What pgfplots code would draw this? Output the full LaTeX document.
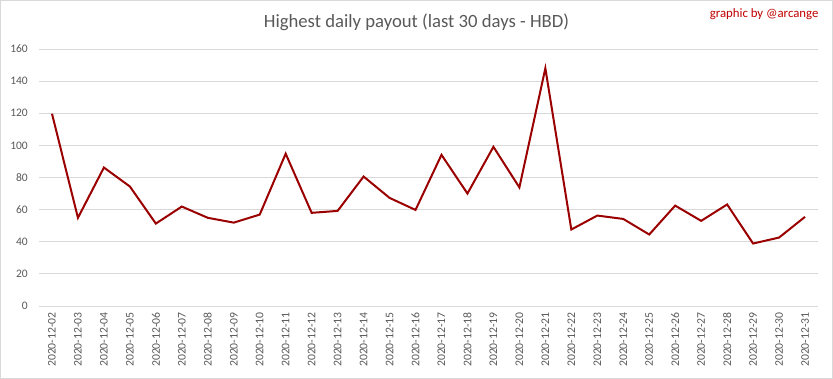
\documentclass[border=0pt]{standalone}
\usepackage{fontspec}
\setmainfont{Carlito}
\usepackage{pgfplots}
\pgfplotsset{compat=1.18}
\definecolor{linered}{HTML}{9B0000}
\definecolor{txtgray}{HTML}{595959}
\definecolor{gridgray}{HTML}{D9D9D9}
\definecolor{sigred}{HTML}{C00000}
\begin{document}
\begin{tikzpicture}[x=1pt,y=1pt]
\draw[gridgray,line width=1pt] (0.5,0.5) rectangle (832.5,378.5);
\path[use as bounding box] (0,0) rectangle (833,379);
\node[txtgray,font=\fontsize{18.7}{21}\selectfont] at (416.5,357) {Highest daily payout (last 30 days - HBD)};
\node[sigred,anchor=east,font=\fontsize{12.8}{14}\selectfont] at (822,365) {graphic by @arcange};
\begin{axis}[
  at={(39pt,73pt)}, anchor=south west,
  scale only axis, width=779pt, height=257pt,
  xmin=-0.5, xmax=29.5, ymin=0, ymax=160,
  ytick={0,20,...,160},
  xtick={0,...,29},
  xticklabels={2020-12-02,2020-12-03,2020-12-04,2020-12-05,2020-12-06,2020-12-07,2020-12-08,2020-12-09,2020-12-10,2020-12-11,2020-12-12,2020-12-13,2020-12-14,2020-12-15,2020-12-16,2020-12-17,2020-12-18,2020-12-19,2020-12-20,2020-12-21,2020-12-22,2020-12-23,2020-12-24,2020-12-25,2020-12-26,2020-12-27,2020-12-28,2020-12-29,2020-12-30,2020-12-31},
  x tick label style={rotate=90, anchor=east, font=\fontsize{11.7}{12}\selectfont, text=txtgray, inner sep=0pt},
  y tick label style={font=\fontsize{11.5}{13}\selectfont, text=txtgray, inner sep=0pt},
  xticklabel shift=6pt, yticklabel shift=11pt,
  /pgf/number format/assume math mode=true,
  axis line style={draw=none},
  major tick length=0pt,
  ymajorgrids, grid style={gridgray, line width=0.9pt},
  clip=false,
]
\addplot[linered, line width=2pt, mark=none] coordinates {
(0,119.7) (1,54.9) (2,86.2) (3,74.4) (4,51.3) (5,61.9) (6,54.9) (7,51.9) (8,56.9) (9,94.8)
(10,58.0) (11,59.2) (12,80.6) (13,67.3) (14,59.8) (15,94.1) (16,70.0) (17,99.1) (18,73.8) (19,148.0)
(20,47.6) (21,56.3) (22,54.2) (23,44.5) (24,62.5) (25,53.0) (26,63.2) (27,38.9) (28,42.6) (29,55.5)
};
\end{axis}
\end{tikzpicture}
\end{document}
